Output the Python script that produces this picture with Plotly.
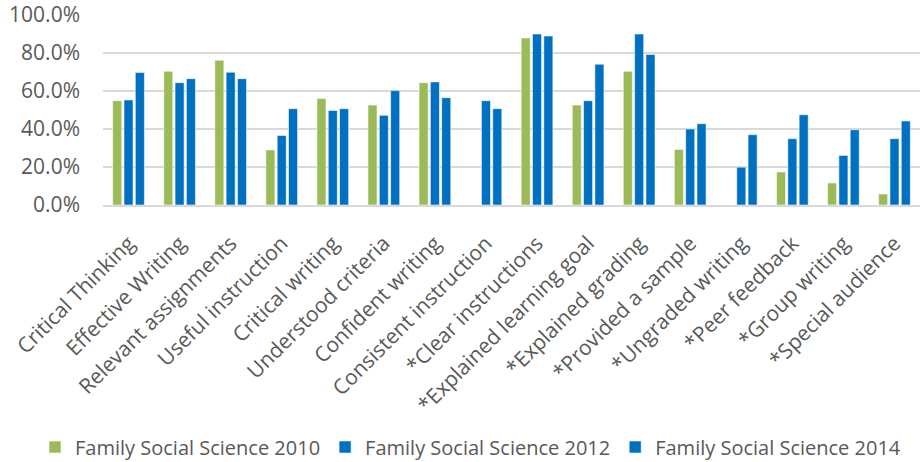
import plotly.graph_objects as go

categories = [
    "Critical Thinking", "Effective Writing", "Relevant assignments",
    "Useful instruction", "Critical writing", "Understood criteria",
    "Confident writing", "Consistent instruction", "*Clear instructions",
    "*Explained learning goal", "*Explained grading", "*Provided a sample",
    "*Ungraded writing", "*Peer feedback", "*Group writing", "*Special audience",
]

fss_2010 = [0.549, 0.704, 0.762, 0.290, 0.560, 0.526, 0.644, None, 0.879,
            0.526, 0.704, 0.292, None, 0.174, 0.116, 0.058]
fss_2012 = [0.553, 0.644, 0.699, 0.366, 0.498, 0.472, 0.648, 0.549, 0.900,
            0.549, 0.900, 0.400, 0.199, 0.349, 0.261, 0.349]
fss_2014 = [0.697, 0.665, 0.665, 0.507, 0.507, 0.602, 0.565, 0.507, 0.889,
            0.741, 0.792, 0.428, 0.370, 0.475, 0.396, 0.442]

series = [
    ("Family Social Science 2010", fss_2010, "#9BBB59"),
    ("Family Social Science 2012", fss_2012, "#0070C0"),
    ("Family Social Science 2014", fss_2014, "#0070C0"),
]

FONT = "Open Sans, sans-serif"
GREY = "#595959"

W, H = 921, 462
M_L, M_R, M_T, M_B = 103, 1, 15, 257
plot_w = W - M_L - M_R
plot_h = H - M_T - M_B

fig = go.Figure()
for name, vals, color in series:
    fig.add_trace(go.Bar(
        x=categories, y=vals, name=name,
        marker=dict(color=color, line=dict(color="rgba(255,255,255,0.55)", width=1)),
    ))

# Legend sits below the plot, starting left of it so it may use the full width
fig.update_layout(
    width=W, height=H,
    margin=dict(l=M_L, r=M_R, t=M_T, b=M_B, autoexpand=False),
    paper_bgcolor="white", plot_bgcolor="white",
    barmode="group", bargap=0.335, bargroupgap=0.2,
    font=dict(family=FONT, color=GREY, size=20),
    showlegend=True,
    legend=dict(
        orientation="h", xref="paper", yref="paper",
        x=(35 - M_L) / plot_w, xanchor="left",
        y=((H - M_B) - 447) / plot_h, yanchor="middle",
        font=dict(size=20, color=GREY, family=FONT),
        itemwidth=30, traceorder="normal",
    ),
)

fig.update_yaxes(
    range=[0, 1], dtick=0.2, tickformat=".1%",
    showgrid=True, gridcolor="#D9D9D9", gridwidth=1.5,
    zeroline=False, showline=False, ticks="",
    tickfont=dict(size=21, color=GREY, family=FONT),
    ticklabelstandoff=22, automargin=False,
)
fig.update_xaxes(
    showline=True, linecolor="#D9D9D9", linewidth=1.5,
    ticks="", tickangle=-45, showgrid=False,
    tickfont=dict(size=21, color=GREY, family=FONT),
    ticklabelstandoff=16, automargin=False,
)

fig.write_html("out.html")
